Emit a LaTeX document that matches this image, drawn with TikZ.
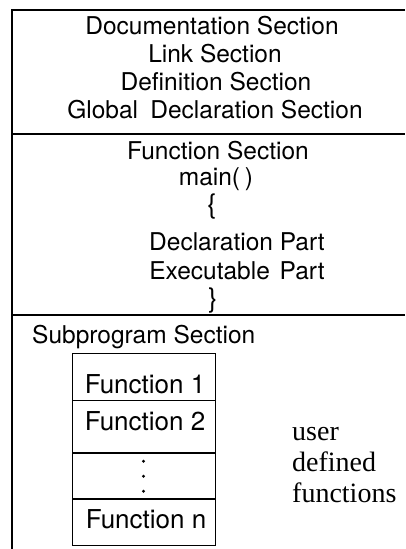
\documentclass[tikz,border=0pt]{standalone}
\usepackage{fontspec}
\setsansfont{TeX Gyre Heros}
\newfontfamily\bookface{Liberation Serif}
\usepackage{tikz}
\usetikzlibrary{positioning}

\begin{document}
\begin{tikzpicture}[x=1pt, y=-1pt,
  sect/.style = {line width=1.1pt},
  txt/.style = {anchor=base, inner sep=0pt, font=\sffamily\fontsize{24.5}{28}\selectfont},
  ftxt/.style = {anchor=base, inner sep=0pt, font=\sffamily\fontsize{26}{28}\selectfont},
  note/.style = {anchor=base west, inner sep=0pt, font=\bookface\fontsize{28}{31}\selectfont},
  cell/.style = {draw, line width=0.9pt, minimum width=143pt, inner sep=0pt},
]
\useasboundingbox (0,0) rectangle (406,549);
% section rules
\draw[sect] (405,10) -- (12,10) -- (12,549);
\draw[sect] (12,134) -- (405,134);
\draw[sect] (12,315) -- (405,315);
% header section
\node[txt] (doc)  at (212,34)  {Documentation Section};
\node[txt] (link) at (215,62)  {Link Section};
\node[txt] (def)  at (216,90)  {Definition Section};
\node[txt] (glob) at (215,118) {Global\hspace{0.5em}Declaration Section};
% main function section
\node[txt] (fsec) at (218,159) {Function Section};
\node[txt] (mainf) at (216,185) {main(\hspace{0.2em})};
\node[txt, font=\sffamily\fontsize{27}{28}\selectfont] (lbr)  at (212,213) {\{};
\node[txt] (decl) at (237,250) {Declaration Part};
\node[txt] (exec) at (237,279) {Executable\hspace{0.4em}Part};
\node[txt, font=\sffamily\fontsize{27}{28}\selectfont] (rbr)  at (213,307) {\}};
% subprograms
\node[txt, anchor=base west] (sub) at (32,343) {Subprogram Section};
\node[cell, minimum height=47pt] (fone) at (143.5,376.5) {};
\node[cell, minimum height=52pt, below=0pt of fone] (ftwo) {};
\node[cell, minimum height=45pt, below=0pt of ftwo] (fdots) {};
\node[cell, minimum height=46pt, below=0pt of fdots] (fn) {};
\node[ftxt] at (145,393) (tone) {Function 1};
\node[ftxt] at (145,430) (ttwo) {Function 2};
\node[ftxt] at (146,528) (tn) {Function n};
\foreach \dy in {-15,0,15}
  \fill ([yshift=\dy]fdots.center) circle (1.6pt);
\node[note] (u1) at (292,440) {user};
\node[note] (u2) at (292,471) {defined};
\node[note] (u3) at (292,502) {functions};
\end{tikzpicture}
\end{document}
